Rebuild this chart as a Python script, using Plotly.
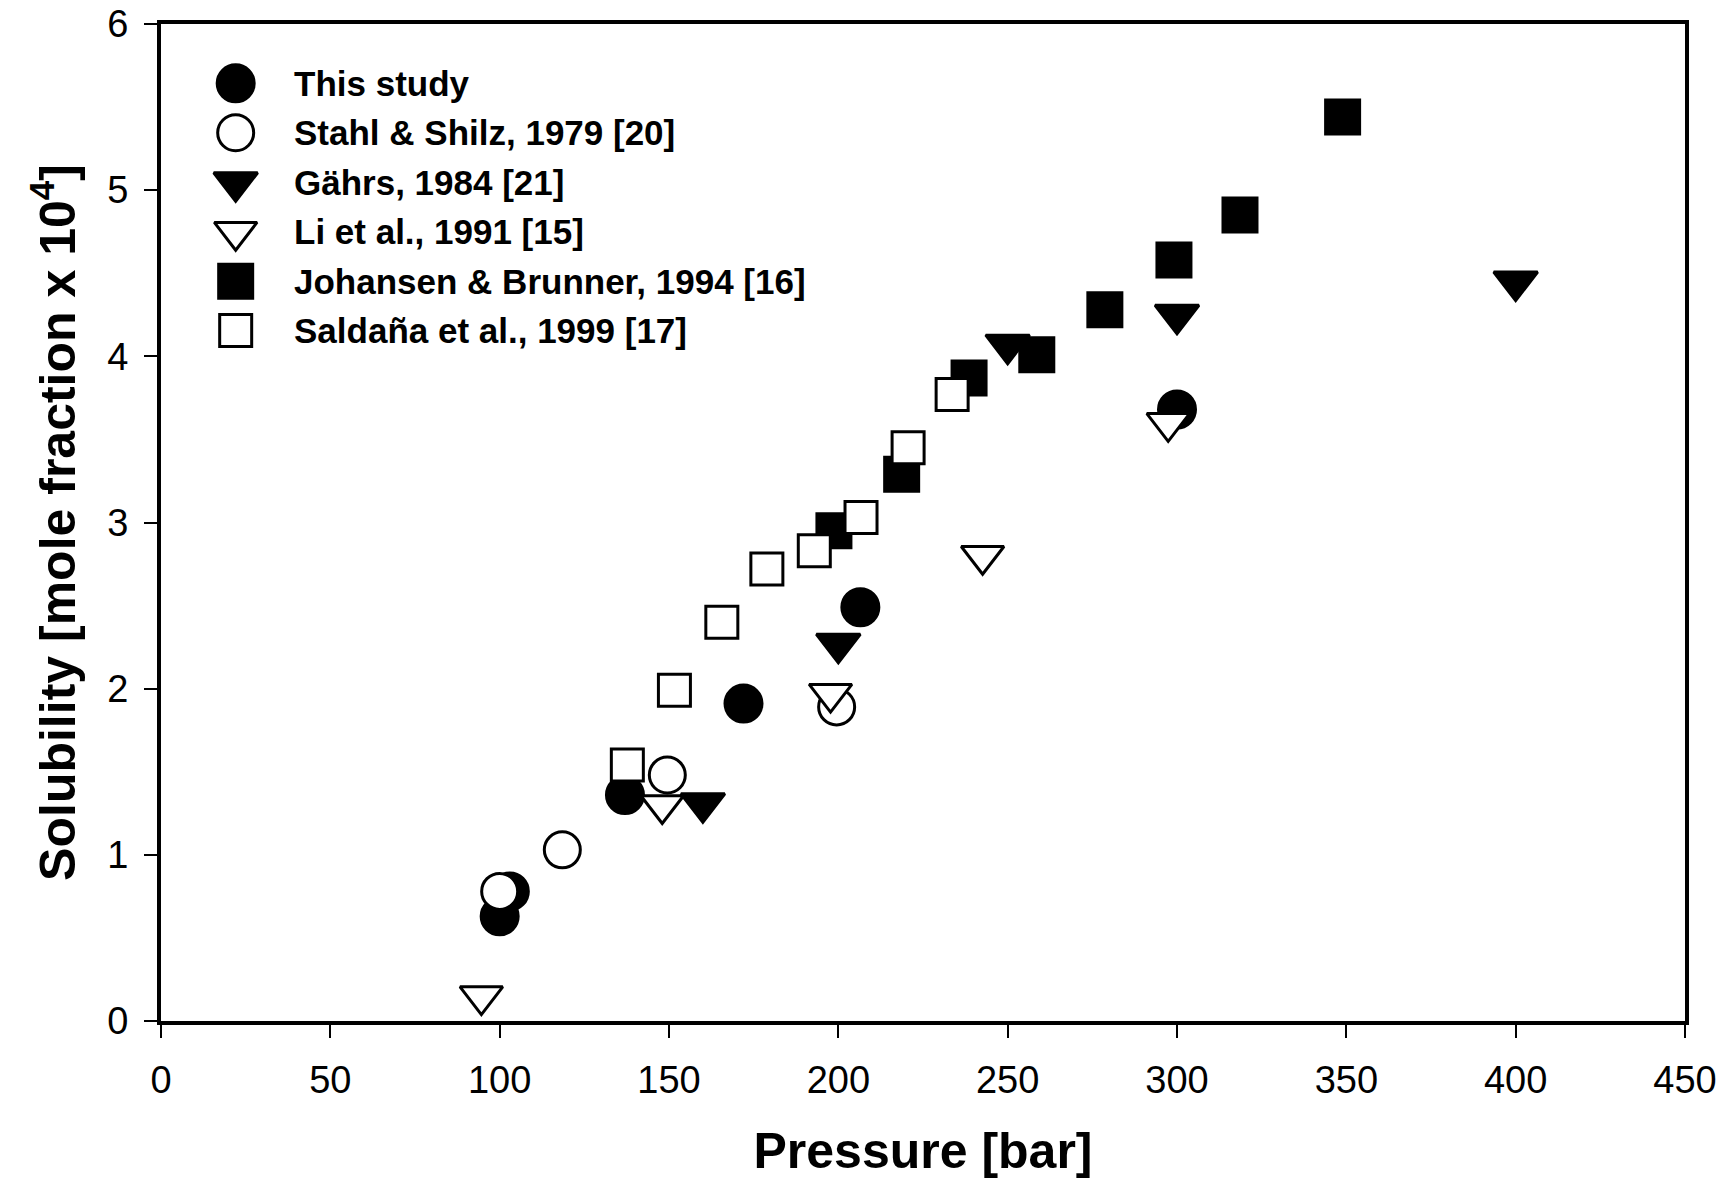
import plotly.graph_objects as go

# ---- data ----
names = [
    "This study",
    "Stahl &amp; Shilz, 1979 [20]",
    "Gährs, 1984 [21]",
    "Li et al., 1991 [15]",
    "Johansen &amp; Brunner, 1994 [16]",
    "Saldaña et al., 1999 [17]",
]

this_study_p = [100, 103, 137, 172, 206.5, 300]
this_study_s = [0.63, 0.78, 1.36, 1.91, 2.49, 3.68]

stahl_p = [100, 118.5, 149.5, 199.5]
stahl_s = [0.78, 1.03, 1.48, 1.89]

gahrs_p = [160, 200, 250, 300, 400]
gahrs_s = [1.31, 2.27, 4.07, 4.25, 4.45]

li_p = [94.6, 148, 197.7, 242.6, 297.4]
li_s = [0.15, 1.30, 1.97, 2.80, 3.60]

johansen_p = [198.7, 218.7, 238.6, 258.6, 278.7, 299.1, 318.6, 348.9]
johansen_s = [2.95, 3.29, 3.87, 4.01, 4.28, 4.58, 4.85, 5.44]

saldana_p = [137.7, 151.6, 165.6, 178.9, 192.9, 206.7, 220.6, 233.6]
saldana_s = [1.54, 1.99, 2.40, 2.72, 2.83, 3.03, 3.45, 3.77]

x_ticks = [0, 50, 100, 150, 200, 250, 300, 350, 400, 450]
y_ticks = [0, 1, 2, 3, 4, 5, 6]

# ---- styles ----
FONT = "Liberation Sans, Arial, sans-serif"
styles = [
    dict(symbol="circle", size=37, color="black"),
    dict(symbol="circle", size=36, color="white"),
    dict(symbol="triangle-down", size=38, color="black"),
    dict(symbol="triangle-down", size=37, color="white"),
    dict(symbol="square", size=34, color="black"),
    dict(symbol="square", size=32, color="white"),
]
series = [
    (this_study_p, this_study_s),
    (stahl_p, stahl_s),
    (gahrs_p, gahrs_s),
    (li_p, li_s),
    (johansen_p, johansen_s),
    (saldana_p, saldana_s),
]

fig = go.Figure()
for name, (px, sy), st in zip(names, series, styles):
    fig.add_trace(go.Scatter(
        x=px, y=sy, mode="markers", name=name, showlegend=False,
        marker=dict(symbol=st["symbol"], size=st["size"], color=st["color"],
                    line=dict(color="black", width=3)),
        cliponaxis=False,
    ))

# ---- custom legend (large symbols) on an overlay paper-like axis ----
leg_x_marker = 0.049
leg_x_text = 0.086
leg_y0 = 0.9405
leg_dy = 0.0496
for i, (name, st) in enumerate(zip(names, styles)):
    yy = leg_y0 - i * leg_dy
    fig.add_trace(go.Scatter(
        x=[leg_x_marker], y=[yy], mode="markers", showlegend=False,
        xaxis="x2", yaxis="y2", hoverinfo="skip",
        marker=dict(symbol=st["symbol"], size=st["size"], color=st["color"],
                    line=dict(color="black", width=3)),
        cliponaxis=False,
    ))
    fig.add_annotation(
        x=leg_x_text, y=yy, xref="paper", yref="paper",
        text="<b>" + name + "</b>", showarrow=False,
        xanchor="left", yanchor="middle",
        font=dict(family=FONT, size=35, color="black"),
    )

axis_common = dict(
    showline=True, linecolor="black", linewidth=4, mirror=True,
    ticks="outside", ticklen=13, tickwidth=1.5, tickcolor="black",
    showgrid=False, zeroline=False, automargin=False,
    tickfont=dict(family=FONT, size=38, color="black"),
)

fig.update_layout(
    template="none",
    width=1724, height=1180,
    margin=dict(l=161, r=39, t=24, b=159),
    paper_bgcolor="white", plot_bgcolor="white",
    showlegend=False,
    xaxis=dict(
        range=[0, 450], tickvals=x_ticks, ticktext=[str(v) for v in x_ticks],
        title=dict(text="<b>Pressure [bar]</b>", font=dict(family=FONT, size=50, color="black"),
                   standoff=34),
        ticklabelstandoff=9,
        **axis_common,
    ),
    yaxis=dict(
        range=[0, 6], tickvals=y_ticks, ticktext=[str(v) for v in y_ticks],
        title=dict(text="<b>Solubility [mole fraction x 10<sup>4</sup>]</b>",
                   font=dict(family=FONT, size=50, color="black"), standoff=17),
        ticklabelstandoff=8,
        **axis_common,
    ),
    xaxis2=dict(overlaying="x", range=[0, 1], visible=False, fixedrange=True),
    yaxis2=dict(overlaying="y", range=[0, 1], visible=False, fixedrange=True),
)

fig.write_html("out.html")
